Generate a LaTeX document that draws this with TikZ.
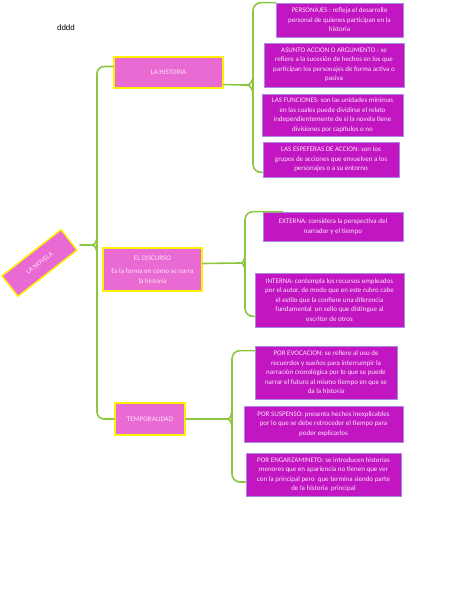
\documentclass[tikz,border=0pt]{standalone}
\usepackage{fontspec}
\setmainfont{Carlito}
\newfontfamily\arialfont{Liberation Sans}
\usepackage{tikz}
\usetikzlibrary{positioning, calc}

\definecolor{hyellow}{HTML}{FFF200}
\definecolor{mainpink}{HTML}{EA6AD4}
\definecolor{leafpurple}{HTML}{C116C1}
\definecolor{leafedge}{HTML}{A98AE3}
\definecolor{txtpink}{HTML}{FCE4F8}
\definecolor{bracegreen}{HTML}{8DC63F}

\begin{document}
\begin{tikzpicture}[x=1pt, y=-1pt, font=\fontsize{7}{9.5}\selectfont]
\tikzstyle{mainbox}=[rectangle, draw=hyellow, line width=1.5pt, fill=mainpink, text=txtpink, align=center, inner sep=2pt]
\tikzstyle{leafbox}=[rectangle, draw=leafedge, line width=0.7pt, fill=leafpurple, text=txtpink, align=center, inner sep=2pt]
\tikzstyle{brace}=[draw=bracegreen, line width=1.6pt, line cap=round]

\useasboundingbox (0,0) rectangle (474,610);

\node[font=\arialfont\fontsize{8}{9}\selectfont, text=black] (title) at (66,28) {dddd};

\node[mainbox, rotate=38, minimum width=75pt, minimum height=26pt] (novela) at (39.5,263) {LA NOVELA};

\node[mainbox, minimum width=109pt, minimum height=31pt] (hist) at (168.5,72.5) {LA HISTORIA};
\node[mainbox, minimum width=99pt, minimum height=43pt] (disc) at (152.5,269.5) {EL DISCURSO\\[4pt]Es la forma en cómo se narra\\la historia};
\node[mainbox, minimum width=70pt, minimum height=32pt] (temp) at (150,419) {TEMPORALIDAD};

\node[leafbox, minimum width=127pt, minimum height=34pt] (pers) at (339.5,20) {PERSONAJES : refleja el desarrollo\\personal de quienes participan en la\\historia};
\node[leafbox, minimum width=140pt, minimum height=44pt] (asun) at (334,65) {ASUNTO ACCION O ARGUMENTO : se\\refiere a la sucesión de hechos en los que\\participan los personajes de forma activa o\\pasiva};
\node[leafbox, minimum width=141pt, minimum height=42pt] (func) at (332.5,115) {LAS FUNCIONES: son las unidades mínimas\\en las cuales puede dividirse el relato\\independientemente de si la novela tiene\\divisiones por capítulos o no};
\node[leafbox, minimum width=136pt, minimum height=35pt] (esp) at (331,159.5) {LAS ESPEFERAS DE ACCION: son los\\grupos de acciones que envuelven a los\\personajes o a su entorno};

\node[leafbox, minimum width=140pt, minimum height=29pt] (ext) at (333,226.5) {EXTERNA: considera la perspectiva del\\narrador y el tiempo};
\node[leafbox, minimum width=149pt, minimum height=54pt] (int) at (329.5,300) {INTERNA: contempla los recursos empleados\\por el autor, de modo que en este rubro cabe\\el estilo que la confiere una diferencia\\fundamental~ un sello que distingue al\\escritor de otros};

\node[leafbox, minimum width=142pt, minimum height=53pt] (evo) at (326,372.5) {POR EVOCACION: se refiere al uso de\\recuerdos y sueños para interrumpir la\\narración cronológica por lo que se puede\\narrar el futuro al mismo tiempo en que se\\da la historia};
\node[leafbox, minimum width=159pt, minimum height=36pt] (sus) at (323.5,424) {POR SUSPENSO: presenta hechos inexplicables\\por lo que se debe retroceder el tiempo para\\poder explicarlos};
\node[leafbox, minimum width=155pt, minimum height=43pt] (eng) at (323.5,474.5) {POR ENGARZAMINETO: se introducen historias\\menores que en apariencia no tienen que ver\\con la principal pero~ que termina siendo parte\\de la historia~ principal};

%main brace
\coordinate (tip0) at (80,245);
\coordinate (fork0) at (88,245);
\coordinate (sp0) at (97,245);
\draw[brace, rounded corners=7pt] ([yshift=6pt]hist.west) -| (sp0) |- (temp.west);
\draw[brace] (tip0) -- (fork0) .. controls (95,245) .. ($(sp0)+(0,-7)$);
\draw[brace] (fork0) .. controls (95,245) .. ($(sp0)+(0,7)$);

%historia brace
\coordinate (tip1) at (243,85);
\coordinate (sp1) at (253,85);
\draw[brace, rounded corners=8pt] (pers.north west) -| (sp1) |- ([yshift=5pt]esp.south west);
\draw[brace] ([yshift=-12pt]hist.east) -- (tip1) .. controls (250,85) .. ($(sp1)+(0,-7)$);
\draw[brace] (tip1) .. controls (250,85) .. ($(sp1)+(0,7)$);

%discurso brace
\coordinate (tip2) at (239,263);
\coordinate (sp2) at (245,263);
\draw[brace, rounded corners=8pt] ([xshift=20pt]ext.north west) -| (sp2) |- ([yshift=11pt]int.south west);
\draw[brace] ([yshift=6pt]disc.east) -- (tip2) .. controls (243,263) .. ($(sp2)+(0,-6)$);
\draw[brace] (tip2) .. controls (243,263) .. ($(sp2)+(0,6)$);

%temporalidad brace
\coordinate (tip3) at (224,419);
\coordinate (sp3) at (232,419);
\draw[brace, rounded corners=8pt] ([yshift=-5pt]evo.north west) -| (sp3) |- ([yshift=-7.5pt]eng.west);
\draw[brace] (temp.east) -- (tip3) .. controls (230,419) .. ($(sp3)+(0,-7)$);
\draw[brace] (tip3) .. controls (230,419) .. ($(sp3)+(0,7)$);

\end{tikzpicture}
\end{document}
